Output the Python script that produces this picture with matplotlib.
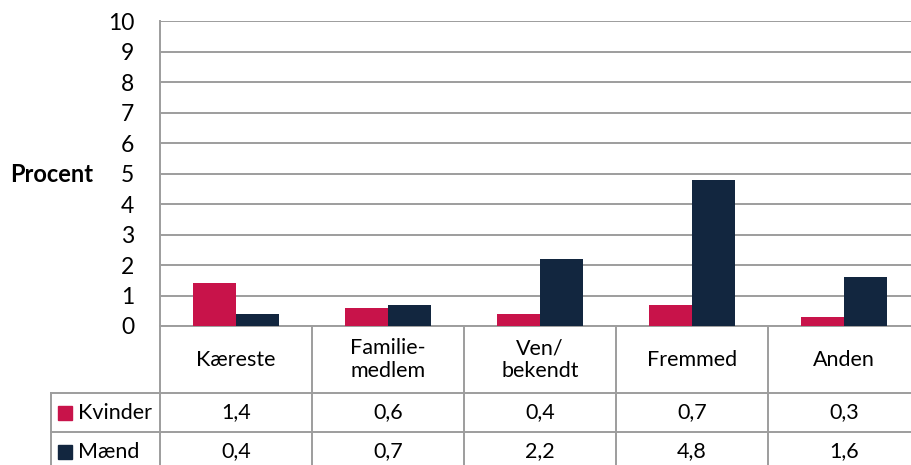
import matplotlib
matplotlib.use("Agg")
import matplotlib.pyplot as plt
from matplotlib.patches import Rectangle

plt.rcParams['font.family'] = ['Lato', 'DejaVu Sans']

categories = ["Kæreste", "Familie-\nmedlem", "Ven/\nbekendt", "Fremmed", "Anden"]
series_names = ["Kvinder", "Mænd"]
kvinder = [1.4, 0.6, 0.4, 0.7, 0.3]
maend = [0.4, 0.7, 2.2, 4.8, 1.6]
y_ticks = list(range(0, 11))

colours = ["#C8134A", "#12263F"]
grid_col = "#9d9d9d"

W, H = 911, 465
fig = plt.figure(figsize=(W / 100, H / 100), dpi=100)

# plot area runs past the right edge, like the cropped original
left, right, top, bottom = 160, 920, 21, 326
ax = fig.add_axes([left / W, 1 - bottom / H, (right - left) / W, (bottom - top) / H])

n = len(categories)
bw = 0.286
xs = list(range(n))
ax.bar([x - bw / 2 for x in xs], kvinder, width=bw, color=colours[0], zorder=3)
ax.bar([x + bw / 2 for x in xs], maend, width=bw, color=colours[1], zorder=3)

ax.set_xlim(-0.5, n - 0.5)
ax.set_ylim(0, 10)
ax.set_yticks(y_ticks)
ax.set_yticklabels([str(t) for t in y_ticks], fontsize=16.5)
ax.tick_params(axis="y", length=0, pad=18.5)
ax.set_xticks([])
ax.grid(axis="y", color=grid_col, lw=1.4, zorder=0)
for s in ["top", "right"]:
    ax.spines[s].set_visible(False)
ax.spines["left"].set_color(grid_col)
ax.spines["left"].set_linewidth(1.4)
ax.spines["bottom"].set_color(grid_col)
ax.spines["bottom"].set_linewidth(1.4)

fig.text(10 / W, 1 - 175 / H, "Procent", fontsize=17, fontweight="bold", va="center", ha="left")

# data table below the plot
t_top, r1, r2, t_bot = 326, 393, 432, 471
tax = fig.add_axes([left / W, 1 - t_bot / H, (right - left) / W, (t_bot - t_top) / H])
tax.set_xlim(-0.5, n - 0.5)
tax.set_ylim(t_bot, t_top)
tax.axis("off")

leg_x = -0.5 - (left - 51) / 152
lkw = dict(color=grid_col, lw=1.4, clip_on=False)
for i in range(n + 1):
    tax.plot([i - 0.5, i - 0.5], [t_top, t_bot], **lkw)
tax.plot([leg_x, leg_x], [r1, t_bot], **lkw)
tax.plot([leg_x, n - 0.5], [r1, r1], **lkw)
tax.plot([leg_x, n - 0.5], [r2, r2], **lkw)
tax.plot([leg_x, n - 0.5], [t_bot, t_bot], **lkw)

for i, c in enumerate(categories):
    tax.text(i, (t_top + r1) / 2, c, ha="center", va="center", fontsize=15.5, linespacing=1.15)

rows = [(r1, r2, kvinder), (r2, t_bot, maend)]
for (y0, y1, vals), name, col in zip(rows, series_names, colours):
    ym = (y0 + y1) / 2
    sq = 14 / 152
    tax.add_patch(Rectangle((leg_x + 7 / 152, ym - 7), sq, 14, color=col, clip_on=False))
    tax.text(leg_x + 27 / 152, ym, name, ha="left", va="center", fontsize=15.5)
    for i, v in enumerate(vals):
        tax.text(i, ym, f"{v:.1f}".replace(".", ","), ha="center", va="center", fontsize=15.5)

fig.savefig("out.png", dpi=100)
